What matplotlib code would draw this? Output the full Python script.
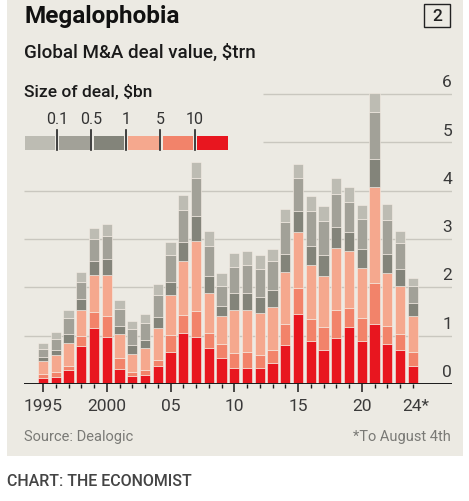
import numpy as np
import matplotlib
matplotlib.use("Agg")
import matplotlib.pyplot as plt
from matplotlib.patches import Rectangle

plt.rcParams['font.family'] = ['Roboto', 'DejaVu Sans']

# data, $trn per year, by size of deal
years = list(range(1995, 2025))
over_10 = [0.12, 0.14, 0.28, 0.78, 1.15, 0.97, 0.32, 0.16, 0.19, 0.37,
           0.66, 1.05, 0.97, 0.74, 0.54, 0.34, 0.33, 0.34, 0.43, 0.81,
           1.45, 0.90, 0.71, 0.95, 1.17, 0.88, 1.24, 0.83, 0.71, 0.38]
b5_10 = [0.09, 0.10, 0.09, 0.22, 0.35, 0.43, 0.22, 0.08, 0.11, 0.13,
         0.36, 0.38, 0.55, 0.31, 0.29, 0.30, 0.33, 0.26, 0.28, 0.43,
         0.54, 0.44, 0.46, 0.59, 0.40, 0.48, 0.86, 0.38, 0.32, 0.28]
b1_5 = [0.27, 0.36, 0.47, 0.53, 0.76, 0.86, 0.49, 0.39, 0.44, 0.65,
        0.82, 1.12, 1.43, 0.83, 0.58, 0.89, 0.88, 0.87, 0.88, 1.07,
        1.16, 1.12, 1.07, 1.27, 1.19, 1.03, 1.97, 1.08, 1.00, 0.75]
b05_1 = [0.07, 0.10, 0.19, 0.23, 0.29, 0.33, 0.18, 0.18, 0.18, 0.23,
         0.28, 0.39, 0.53, 0.35, 0.21, 0.35, 0.34, 0.34, 0.35, 0.39,
         0.42, 0.40, 0.43, 0.43, 0.38, 0.40, 0.59, 0.39, 0.35, 0.26]
b01_05 = [0.17, 0.24, 0.33, 0.36, 0.45, 0.47, 0.34, 0.33, 0.34, 0.46,
          0.55, 0.67, 0.78, 0.62, 0.41, 0.55, 0.58, 0.57, 0.60, 0.66,
          0.69, 0.71, 0.71, 0.70, 0.62, 0.62, 0.97, 0.71, 0.53, 0.36]
under_01 = [0.13, 0.13, 0.18, 0.20, 0.23, 0.25, 0.19, 0.16, 0.19, 0.22,
            0.26, 0.30, 0.34, 0.31, 0.26, 0.28, 0.30, 0.28, 0.25, 0.26,
            0.29, 0.31, 0.30, 0.32, 0.31, 0.30, 0.40, 0.33, 0.26, 0.16]

series = [over_10, b5_10, b1_5, b05_1, b01_05, under_01]
colors = ['#E8161F', '#F2836A', '#F5A88E', '#83847A', '#A2A198', '#BDBCB3']
legend_labels = ['0.1', '0.5', '1', '5', '10']

W, H = 469, 502
bg = '#ECEAE3'
fig = plt.figure(figsize=(W / 100, H / 100), dpi=100)
fig.patch.set_facecolor('white')
fig.patches.append(Rectangle((7 / W, 1 - 457 / H), 456 / W, 457 / H,
                             transform=fig.transFigure, facecolor=bg,
                             edgecolor='none', zorder=-5))

def fx(px):
    return px / W

def fy(py):
    return 1 - py / H

# plot area: x 24..452 px, value 0 at y=385, 48.33 px per unit
step = 12.75
x0 = 1995 + (24 - 43) / step
x1 = 1995 + (452 - 43) / step
ax = fig.add_axes([fx(24), fy(385), fx(452) - fx(24), (385 - 80.5) / H])
ax.set_facecolor('none')
ax.set_zorder(2)
ax.set_xlim(x0, x1)
ax.set_ylim(0, 6.3)

bottom = np.zeros(len(years))
for vals, c in zip(series, colors):
    ax.bar(years, vals, bottom=bottom, width=0.8, color=c,
           edgecolor='#F6EEE6', linewidth=0.4, zorder=3)
    bottom += np.array(vals)

# gridlines (the top two stop short of the legend)
for v in [1, 2, 3, 4]:
    ax.hlines(v, x0, x1, color='#C9C7BF', lw=1, zorder=1)
for v in [5, 6]:
    ax.hlines(v, 1995 + (263 - 43) / step, x1, color='#C9C7BF', lw=1, zorder=1)
ax.axhline(0, color='#1a1a1a', lw=1.4, zorder=4)

for v in range(7):
    ax.text(x1, v + 0.1, str(v), ha='right', va='bottom', fontsize=12.5,
            color='#3a3a3a')

for s in ax.spines.values():
    s.set_visible(False)
ax.set_yticks([])
ax.set_xticks([1995, 2000, 2005, 2010, 2015, 2020])
ax.set_xticklabels(['1995', '2000', '05', '10', '15', '20'])
ax.set_xticks(years, minor=True)
ax.tick_params(axis='x', which='major', length=6, width=1.1, color='#1a1a1a',
               labelsize=12.5, labelcolor='#3a3a3a', pad=4)
ax.tick_params(axis='x', which='minor', length=3, width=1, color='#1a1a1a')
ax.text(2024.25, -0.29, '24*', ha='center', va='top', fontsize=12.5,
        color='#3a3a3a')

# titles
fig.text(fx(24), fy(17), 'Megalophobia', fontsize=17.5, fontweight='bold',
         color='#111111', va='center')
fig.patches.append(Rectangle((fx(424), fy(28)), fx(26), 23 / H,
                             transform=fig.transFigure, facecolor='none',
                             edgecolor='#222222', lw=1))
fig.text(fx(437), fy(16.5), '2', fontsize=12.5, fontweight='medium',
         color='#222222', ha='center', va='center')
fig.text(fx(24), fy(53), 'Global M&A deal value, $trn', fontsize=13.5,
         fontweight='medium', color='#1a1a1a', va='center')
fig.text(fx(24), fy(92), 'Size of deal, $bn', fontsize=12.5,
         fontweight='medium', color='#1a1a1a', va='center')

# legend strip
seg_w = 34.5
for i, c in enumerate(colors[::-1]):
    left = 24 + i * seg_w
    fig.patches.append(Rectangle((fx(left + 0.5), fy(151)), (seg_w - 4) / W,
                                 14 / H, transform=fig.transFigure,
                                 facecolor=c, edgecolor='none'))
for i, lab in enumerate(legend_labels):
    tx = 24 + (i + 1) * seg_w - 1.8
    fig.add_artist(plt.Line2D([fx(tx), fx(tx)], [fy(151), fy(131)],
                              transform=fig.transFigure, color='#222222',
                              lw=1.2))
    fig.text(fx(tx), fy(119), lab, fontsize=11.5, color='#333333',
             ha='center', va='center')

fig.text(fx(24), fy(437), 'Source: Dealogic', fontsize=10.5, color='#7a7a76',
         va='center')
fig.text(fx(451), fy(437), '*To August 4th', fontsize=10.5, color='#7a7a76',
         va='center', ha='right')
fig.text(fx(7), fy(482), 'CHART: THE ECONOMIST', fontsize=11.5,
         fontweight='medium', color='#444444', va='center')

fig.savefig('out.png', dpi=100, facecolor=fig.get_facecolor())
